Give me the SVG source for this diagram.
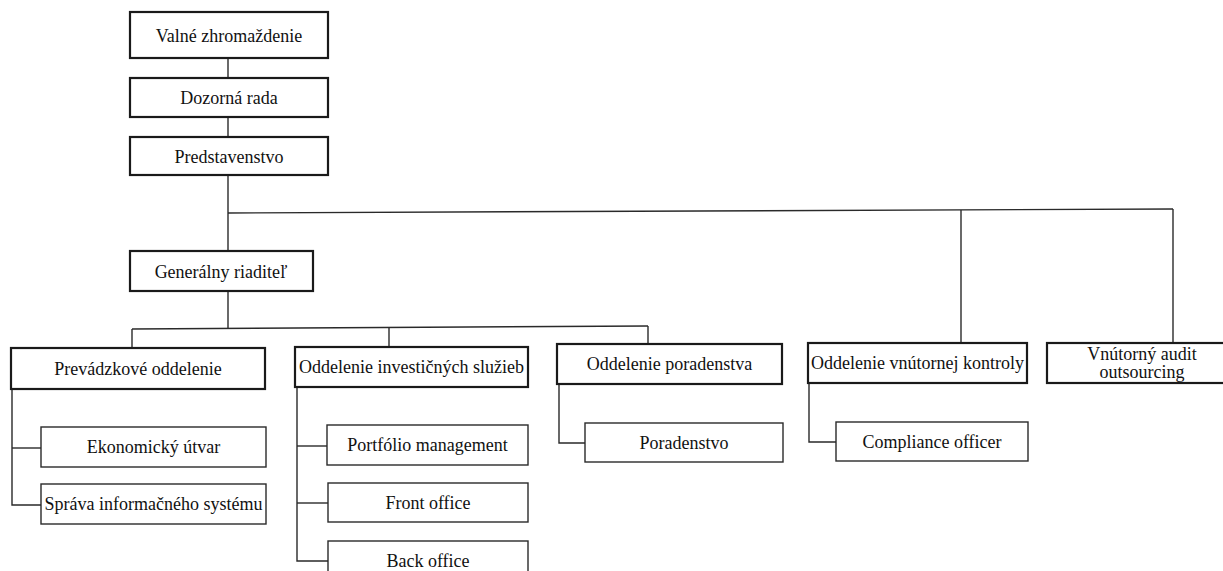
<svg xmlns="http://www.w3.org/2000/svg" width="1223" height="571" viewBox="0 0 1223 571">
<style>
.main{fill:#fff;stroke:#1a1a1a;stroke-width:2.2}
.sub{fill:#fff;stroke:#2a2a2a;stroke-width:1.4}
.ln{stroke:#2a2a2a;stroke-width:1.4;fill:none}
text{font-family:"Liberation Serif","Times New Roman",serif;font-size:18px;fill:#111;text-anchor:middle}
</style>
<rect width="1223" height="571" fill="#fff"/>
<g id="connectors">
<line class="ln" x1="228" y1="58" x2="228" y2="78"/>
<line class="ln" x1="228" y1="117" x2="228" y2="137"/>
<line class="ln" x1="228" y1="175" x2="228" y2="251"/>
<line class="ln" x1="228" y1="213" x2="1173" y2="209"/>
<line class="ln" x1="961" y1="210" x2="961" y2="343"/>
<line class="ln" x1="1173" y1="209" x2="1173" y2="343"/>
<line class="ln" x1="228" y1="291" x2="228" y2="328"/>
<line class="ln" x1="132" y1="329" x2="648" y2="326"/>
<line class="ln" x1="132" y1="329" x2="132" y2="348"/>
<line class="ln" x1="389" y1="328" x2="389" y2="347"/>
<line class="ln" x1="648" y1="326" x2="648" y2="344"/>
<polyline class="ln" points="12,389 12,505 41,505"/>
<line class="ln" x1="12" y1="448" x2="41" y2="448"/>
<polyline class="ln" points="297,387 297,561 328,561"/>
<line class="ln" x1="297" y1="446" x2="327" y2="446"/>
<line class="ln" x1="297" y1="503" x2="328" y2="503"/>
<polyline class="ln" points="559,384 559,443 585,443"/>
<polyline class="ln" points="809,383 809,442 836,442"/>
</g>
<g id="valne"><rect class="main" x="130" y="12" width="198" height="46"/><text x="229" y="42">Valné zhromaždenie</text></g>
<g id="dozorna"><rect class="main" x="130" y="78" width="198" height="39"/><text x="229" y="104">Dozorná rada</text></g>
<g id="predstavenstvo"><rect class="main" x="130" y="137" width="198" height="38"/><text x="229" y="163">Predstavenstvo</text></g>
<g id="generalny"><rect class="main" x="130" y="251" width="183" height="40"/><text x="221" y="278">Generálny riaditeľ</text></g>
<g id="prevadzkove"><rect class="main" x="11" y="348" width="254" height="41"/><text x="138" y="375">Prevádzkové oddelenie</text></g>
<g id="investicne"><rect class="main" x="295" y="347" width="233" height="40"/><text x="411.5" y="373">Oddelenie investičných služieb</text></g>
<g id="poradenstva"><rect class="main" x="557" y="344" width="225" height="40"/><text x="669.5" y="370">Oddelenie poradenstva</text></g>
<g id="kontroly"><rect class="main" x="808" y="343" width="219" height="40"/><text x="917.5" y="369">Oddelenie vnútornej kontroly</text></g>
<g id="audit"><rect class="main" x="1047" y="343" width="180" height="40"/><text x="1142" y="360">Vnútorný audit</text><text x="1142" y="378">outsourcing</text></g>
<g id="ekonomicky"><rect class="sub" x="41" y="427" width="225" height="40"/><text x="153.5" y="453">Ekonomický útvar</text></g>
<g id="sprava"><rect class="sub" x="41" y="484" width="225" height="40"/><text x="153.5" y="510">Správa informačného systému</text></g>
<g id="portfolio"><rect class="sub" x="327" y="425" width="201" height="40"/><text x="427.5" y="451">Portfólio management</text></g>
<g id="front"><rect class="sub" x="328" y="483" width="200" height="39"/><text x="428" y="509">Front office</text></g>
<g id="back"><rect class="sub" x="328" y="541" width="200" height="44"/><text x="428" y="567">Back office</text></g>
<g id="poradenstvo"><rect class="sub" x="585" y="423" width="198" height="39"/><text x="684" y="449">Poradenstvo</text></g>
<g id="compliance"><rect class="sub" x="836" y="422" width="192" height="39"/><text x="932" y="448">Compliance officer</text></g>
</svg>
